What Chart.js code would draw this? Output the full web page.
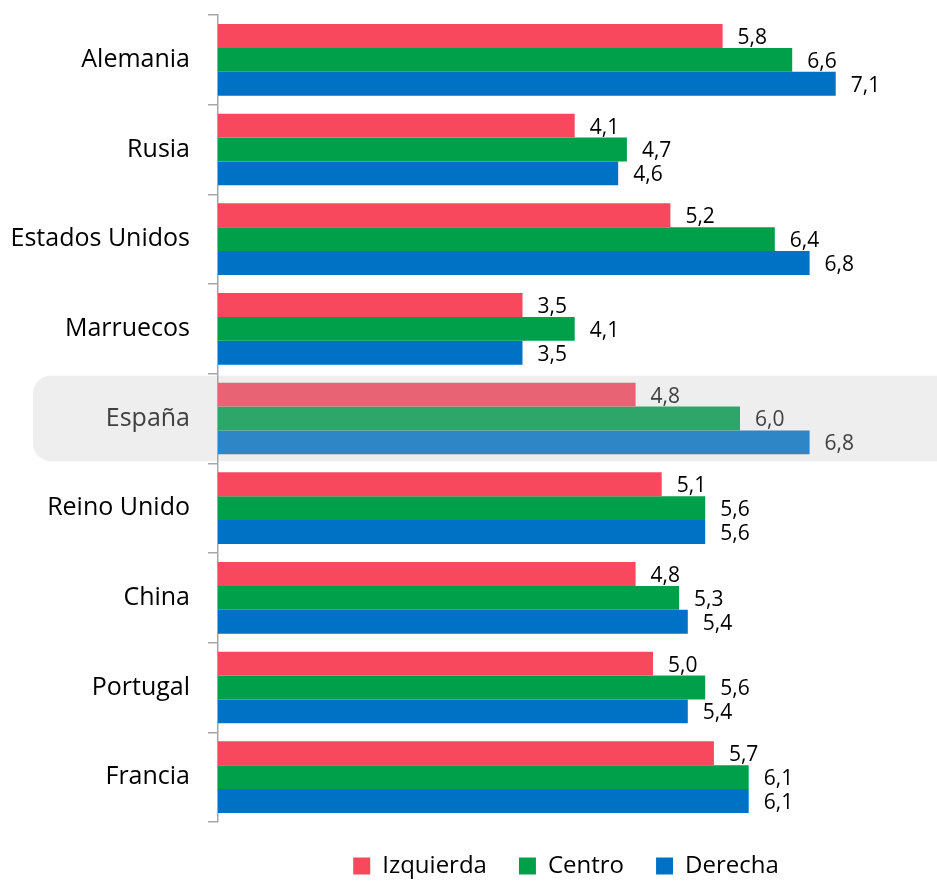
<!DOCTYPE html>
<html>
<head>
<meta charset="utf-8">
<script src="https://cdn.jsdelivr.net/npm/chart.js@4"></script>
<style>
  html, body { margin: 0; padding: 0; background: #fff; }
  #wrap { width: 937px; height: 882px; }
</style>
</head>
<body>
<div id="wrap"><canvas id="barChart"></canvas></div>
<script>
  // Countries (top to bottom)
  const countries = ["Alemania", "Rusia", "Estados Unidos", "Marruecos", "España",
    "Reino Unido", "China", "Portugal", "Francia"];

  // Scores per political position
  const izquierda = [5.8, 4.1, 5.2, 3.5, 4.8, 5.1, 4.8, 5.0, 5.7];
  const centro    = [6.6, 4.7, 6.4, 4.1, 6.0, 5.6, 5.3, 5.6, 6.1];
  const derecha   = [7.1, 4.6, 6.8, 3.5, 6.8, 5.6, 5.4, 5.4, 6.1];

  const highlight = "España";
  const hiIndex = countries.indexOf(highlight);

  const colors = {
    izq: ["#F8485E", "#E86474"],
    cen: ["#00A04A", "#2EA66A"],
    der: ["#0072C6", "#2E86C6"]
  };
  const pick = pair => ctx => ctx.dataIndex === hiIndex ? pair[1] : pair[0];

  // grey rounded band behind the highlighted country
  const highlightBand = {
    id: "highlightBand",
    beforeDraw(chart) {
      const y = chart.scales.y;
      const c = chart.ctx;
      const mid = y.getPixelForValue(hiIndex);
      const half = (y.getPixelForValue(1) - y.getPixelForValue(0)) / 2 - 2;
      c.save();
      c.fillStyle = "#EEEEEE";
      c.beginPath();
      c.roundRect(33, mid - half, chart.width - 33 + 20, half * 2, 18);
      c.fill();
      c.restore();
    }
  };

  // value labels right of each bar
  const valueLabels = {
    id: "valueLabels",
    afterDatasetsDraw(chart) {
      const c = chart.ctx;
      c.save();
      c.font = "21px 'Open Sans', sans-serif";
      c.textBaseline = "middle";
      c.textAlign = "left";
      chart.data.datasets.forEach((ds, i) => {
        chart.getDatasetMeta(i).data.forEach((bar, j) => {
          c.fillStyle = j === hiIndex ? "#404040" : "#000";
          c.fillText(ds.data[j].toFixed(1).replace(".", ","), bar.x + 15, bar.y + 2);
        });
      });
      c.restore();
    }
  };

  new Chart(document.getElementById("barChart"), {
    type: "bar",
    data: {
      labels: countries,
      datasets: [
        { label: "Izquierda", data: izquierda, backgroundColor: pick(colors.izq) },
        { label: "Centro", data: centro, backgroundColor: pick(colors.cen) },
        { label: "Derecha", data: derecha, backgroundColor: pick(colors.der) }
      ]
    },
    options: {
      indexAxis: "y",
      responsive: true,
      maintainAspectRatio: false,
      animation: false,
      categoryPercentage: 0.8,
      barPercentage: 1.0,
      borderWidth: 0,
      layout: { padding: { top: 15, right: 23, left: 0, bottom: -6 } },
      scales: {
        x: { display: false, min: 0, max: 8 },
        y: {
          afterFit: scale => {
            scale.width = 218;
            scale.paddingTop = 0;
            scale.paddingBottom = 0;
          },
          grid: {
            offset: true,
            drawOnChartArea: false,
            tickLength: 10,
            color: "#A6A6A6",
            lineWidth: 1.5
          },
          border: { color: "#A6A6A6", width: 1.5 },
          ticks: {
            padding: 18,
            font: { family: "'Open Sans', sans-serif", size: 25 },
            color: ctx => ctx.index === hiIndex ? "#404040" : "#000"
          }
        }
      },
      plugins: {
        legend: {
          position: "bottom",
          fullSize: false,
          labels: {
            boxWidth: 17,
            boxHeight: 17,
            padding: 32,
            color: "#000",
            font: { family: "'Open Sans', sans-serif", size: 24 }
          }
        },
        tooltip: { enabled: false }
      }
    },
    plugins: [highlightBand, valueLabels]
  });
</script>
</body>
</html>
